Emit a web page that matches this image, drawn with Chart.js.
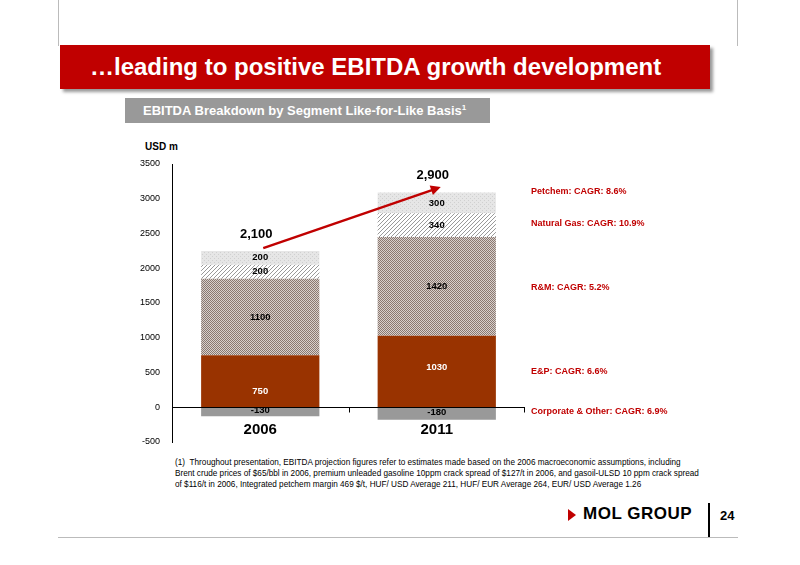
<!DOCTYPE html>
<html><head><meta charset="utf-8">
<script src="https://cdn.jsdelivr.net/npm/chart.js@4"></script>
<style>
body{margin:0;background:#fff;font-family:"Liberation Sans",Arial,sans-serif}
#wrap{position:relative;width:800px;height:565px;overflow:hidden}
canvas{position:absolute;left:0;top:0}
.abs{position:absolute}
</style></head><body>
<div id="wrap">
<div class="abs" style="left:58px;top:0;width:1px;height:46px;background:#bbb"></div>
<div class="abs" style="left:737px;top:0;width:1px;height:46px;background:#bbb"></div>
<div class="abs" style="left:58px;top:537px;width:680px;height:1px;background:#bbb"></div>
<div class="abs" style="left:60px;top:45px;width:650px;height:44px;background:#c00000;box-shadow:3px 3px 3px #999"></div>
<div class="abs" style="left:90px;top:53px;color:#fff;font-weight:bold;font-size:24px">…leading to positive EBITDA growth development</div>
<div class="abs" style="left:125px;top:98px;width:365px;height:25px;background:#999"></div>
<div class="abs" style="left:143px;top:103px;color:#fff;font-weight:bold;font-size:13px">EBITDA Breakdown by Segment Like-for-Like Basis<sup style="font-size:8px">1</sup></div>
<div class="abs" style="left:145px;top:141px;font-weight:bold;font-size:10px">USD m</div>
<div class="abs" style="left:175px;top:457px;font-size:8.2px;line-height:11px;white-space:nowrap">(1) &nbsp;Throughout presentation, EBITDA projection figures refer to estimates made based on the 2006 macroeconomic assumptions, including<br>Brent crude prices of $65/bbl in 2006, premium unleaded gasoline 10ppm crack spread of $127/t in 2006, and gasoil-ULSD 10 ppm crack spread<br>of $116/t in 2006, Integrated petchem margin 469 $/t, HUF/ USD Average 211, HUF/ EUR Average 264, EUR/ USD Average 1.26</div>
<div class="abs" style="left:568px;top:509px;width:0;height:0;border-top:6px solid transparent;border-bottom:6px solid transparent;border-left:8px solid #c00000"></div>
<div class="abs" style="left:583px;top:504px;font-weight:900;font-size:17px;color:#000;letter-spacing:0.5px">MOL GROUP</div>
<div class="abs" style="left:708px;top:503px;width:2px;height:34px;background:#000"></div>
<div class="abs" style="left:720px;top:508px;font-weight:bold;font-size:13px">24</div>
<canvas id="c" width="800" height="565"></canvas>
</div>
<script>
const years = ['2006', '2011'];
const corporate = [-130, -180];
const ep = [750, 1030];
const rm = [1100, 1420];
const gas = [200, 340];
const petchem = [200, 300];
const totals = ['2,100', '2,900'];
const yTicks = [-500, 0, 500, 1000, 1500, 2000, 2500, 3000, 3500];
const sideLabels = [
  ['Petchem: CAGR: 8.6%', 3100],
  ['Natural Gas: CAGR: 10.9%', 2650],
  ['R&M: CAGR: 5.2%', 1720],
  ['E&P: CAGR: 6.6%', 520],
  ['Corporate & Other: CAGR: 6.9%', -60]
];

function pat(draw) {
  const p = document.createElement('canvas');
  p.width = 4; p.height = 4;
  const g = p.getContext('2d');
  draw(g);
  return g.createPattern(p, 'repeat');
}
const ctx0 = document.getElementById('c').getContext('2d');
const rmPat = pat(g => {
  g.fillStyle = '#d8d0cc'; g.fillRect(0, 0, 4, 4);
  g.fillStyle = '#8a7870';
  g.fillRect(0, 0, 1, 1); g.fillRect(2, 0, 1, 1); g.fillRect(1, 1, 1, 1); g.fillRect(3, 1, 1, 1);
  g.fillRect(0, 2, 1, 1); g.fillRect(2, 2, 1, 1); g.fillRect(1, 3, 1, 1); g.fillRect(3, 3, 1, 1);
});
const gasPat = pat(g => {
  g.fillStyle = '#fff'; g.fillRect(0, 0, 4, 4);
  g.fillStyle = '#999';
  for (let i = 0; i < 4; i++) g.fillRect(3 - i, i, 1, 1);
});
const petPat = pat(g => {
  g.fillStyle = '#e6e6e6'; g.fillRect(0, 0, 4, 4);
  g.fillStyle = '#d0d0d0'; g.fillRect(0, 0, 1, 1); g.fillRect(2, 2, 1, 1);
});

const deco = {
  id: 'deco',
  afterDatasetsDraw(chart) {
    const {ctx, scales: {x, y}, chartArea} = chart;
    ctx.save();
    // zero line
    ctx.strokeStyle = '#000'; ctx.lineWidth = 1;
    const y0 = Math.round(y.getPixelForValue(0)) + 0.5;
    ctx.beginPath(); ctx.moveTo(chartArea.left, y0); ctx.lineTo(chartArea.right, y0);
    ctx.moveTo(chartArea.right - 0.5, y0); ctx.lineTo(chartArea.right - 0.5, y0 + 5);
    const mid = (x.getPixelForValue(0) + x.getPixelForValue(1)) / 2;
    ctx.moveTo(Math.round(mid) + 0.5, y0); ctx.lineTo(Math.round(mid) + 0.5, y0 + 5);
    ctx.stroke();
    // segment labels
    ctx.font = 'bold 9.5px "Liberation Sans", Arial';
    ctx.textAlign = 'center'; ctx.textBaseline = 'middle';
    chart.data.datasets.forEach((ds, di) => {
      chart.getDatasetMeta(di).data.forEach((bar, i) => {
        const v = ds.data[i];
        ctx.fillStyle = di === 1 ? '#fff' : '#000';
        let ly = (bar.y + bar.base) / 2;
        if (di === 1) ly += i === 0 ? 10 : -4;
        if (di === 0) ly -= 1;
        ctx.fillText(String(v), bar.x, ly);
      });
    });
    // years
    ctx.font = 'bold 15px "Liberation Sans", Arial';
    years.forEach((t, i) => ctx.fillText(t, x.getPixelForValue(i), y.getPixelForValue(-320)));
    // totals
    ctx.font = 'bold 13px "Liberation Sans", Arial';
    ctx.fillText(totals[0], x.getPixelForValue(0) - 4, y.getPixelForValue(2480));
    ctx.fillText(totals[1], x.getPixelForValue(1) - 4, y.getPixelForValue(3330));
    // arrow
    const ax1 = x.getPixelForValue(0) + 3, ay1 = y.getPixelForValue(2290);
    const ax2 = x.getPixelForValue(1) + 4, ay2 = y.getPixelForValue(3170);
    ctx.strokeStyle = '#c00000'; ctx.fillStyle = '#c00000'; ctx.lineWidth = 2.5;
    ctx.beginPath(); ctx.moveTo(ax1, ay1); ctx.lineTo(ax2 - 8, ay2 + 3); ctx.stroke();
    const ang = Math.atan2(ay2 - ay1, ax2 - ax1);
    ctx.beginPath(); ctx.moveTo(ax2, ay2);
    ctx.lineTo(ax2 - 10 * Math.cos(ang) + 5 * Math.sin(ang), ay2 - 10 * Math.sin(ang) - 5 * Math.cos(ang));
    ctx.lineTo(ax2 - 10 * Math.cos(ang) - 5 * Math.sin(ang), ay2 - 10 * Math.sin(ang) + 5 * Math.cos(ang));
    ctx.fill();
    // side labels
    ctx.font = 'bold 9px "Liberation Sans", Arial';
    ctx.textAlign = 'left'; ctx.fillStyle = '#c00000';
    sideLabels.forEach(([t, v]) => ctx.fillText(t, 531, y.getPixelForValue(v)));
    ctx.restore();
  }
};

new Chart(ctx0, {
  type: 'bar',
  data: {
    labels: years,
    datasets: [
      {label: 'Corporate & Other', data: corporate, backgroundColor: '#999999'},
      {label: 'E&P', data: ep, backgroundColor: '#993300'},
      {label: 'R&M', data: rm, backgroundColor: rmPat},
      {label: 'Natural Gas', data: gas, backgroundColor: gasPat},
      {label: 'Petchem', data: petchem, backgroundColor: petPat}
    ]
  },
  options: {
    responsive: false,
    animation: false,
    layout: {padding: {left: 132, right: 275, top: 164, bottom: 123}},
    datasets: {bar: {barPercentage: 1, categoryPercentage: 0.67}},
    plugins: {legend: {display: false}, tooltip: {enabled: false}},
    scales: {
      x: {stacked: true, display: false},
      y: {
        stacked: true, min: -500, max: 3500,
        afterFit: s => { s.width = 40; },
        afterBuildTicks: s => { s.ticks = yTicks.map(v => ({value: v})); },
        grid: {display: false, drawTicks: true},
        border: {color: '#000'},
        ticks: {color: '#000', font: {size: 9, family: '"Liberation Sans", Arial'}, padding: 4,
          callback: v => String(v)}
      }
    }
  },
  plugins: [deco]
});
</script>
</body></html>
